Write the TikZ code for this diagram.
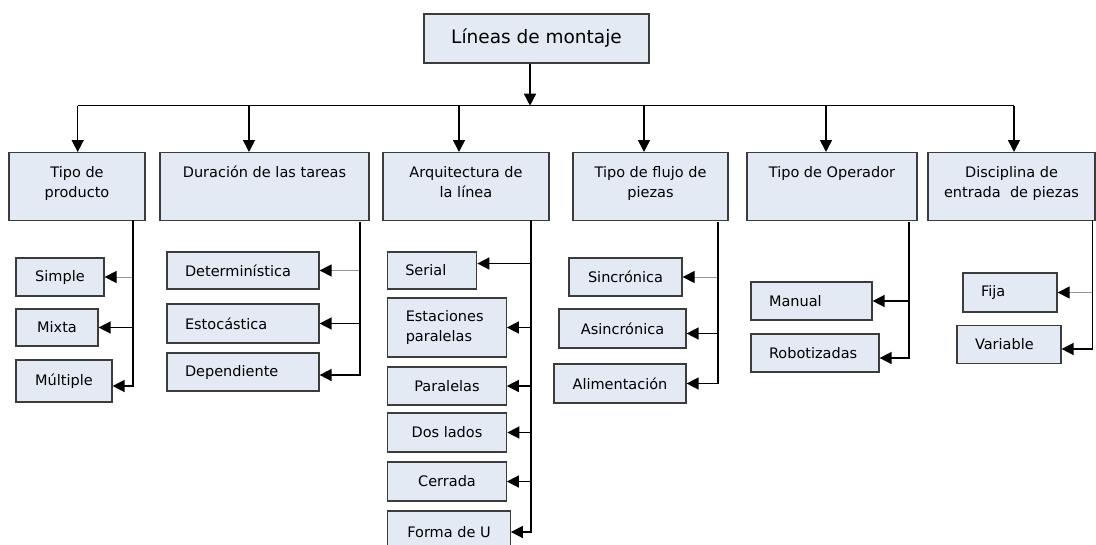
\documentclass[tikz,border=0pt]{standalone}
\usepackage{fontspec}
\setmainfont{DejaVu Sans}
\definecolor{boxblue}{RGB}{227, 234, 244}
\definecolor{edgegray}{RGB}{60, 60, 60}
\definecolor{thingray}{RGB}{150, 150, 150}
\usepackage{tikz}
\usetikzlibrary{arrows.meta, positioning}

\tikzset{
  box/.style={draw=edgegray, fill=boxblue, line width=1.2pt, inner sep=0pt, font=\fontsize{14.5}{20}\selectfont},
  head/.style={box, anchor=north, align=center, text height=25pt, text depth=43pt},
  headtwo/.style={box, anchor=north, align=center, text height=45pt, text depth=23pt},
  sub/.style={box, align=center},
  subL/.style={box, align=left, inner xsep=18pt},
  arr/.style={line width=1.5pt, -{Triangle[width=12pt, length=12pt]}},
  thinarr/.style={line width=0.8pt, draw=thingray, -{Triangle[width=12pt, length=12pt, color=black]}}
}

\begin{document}
\begin{tikzpicture}[x=1pt, y=-1pt]
  \useasboundingbox (0,0) rectangle (1096,544);

  % Root
  \node[box, minimum width=225, minimum height=49, font=\fontsize{18.5}{20}\selectfont] (lin) at (536.5, 38.5) {Líneas de montaje};

  % Criteria
  \node[headtwo, minimum width=136] (tp)  at (77, 152)     {Tipo de\\producto};
  \node[head, minimum width=209] (dur)    at (264.5, 152)  {Duración de las tareas};
  \node[headtwo, minimum width=166] (arq) at (466, 152)    {Arquitectura de\\la línea};
  \node[headtwo, minimum width=155] (flu) at (650.5, 152)  {Tipo de flujo de\\piezas};
  \node[head, minimum width=170] (ope)    at (832, 152)    {Tipo de Operador};
  \node[headtwo, minimum width=167] (dis) at (1011.5, 152) {Disciplina de\\entrada\ \ de piezas};

  % Bus
  \coordinate (b0) at (530, 105.7);
  \draw[line width=1.5pt] (77.7, 105.7) coordinate (bL) -- (1013.5, 105.7) coordinate (bR);
  \draw[arr] (lin.south -| b0) -- (b0);
  \foreach \nd/\bx in {tp/77.7, dur/249, arq/459, flu/644, ope/826, dis/1014} {
    \coordinate (b-\nd) at (\bx, 105.7);
    \draw[arr] (b-\nd) -- (b-\nd |- \nd.north);
  }

  % Tipo de producto
  \node[sub, minimum width=88, minimum height=38] (simple) at (60, 277)    {Simple};
  \node[sub, minimum width=82, minimum height=37] (mixta)  at (57, 327.5)  {Mixta};
  \node[sub, minimum width=96, minimum height=42] (mult)   at (64, 381)    {Múltiple};
  \coordinate (s-tp) at (133, 220);
  \draw[thinarr] (s-tp) |- (simple);
  \draw[arr] (s-tp) |- (mixta);
  \draw[arr] (s-tp) |- ([yshift=-5pt]mult.east);

  % Duracion
  \node[subL, text width=116, minimum height=37] (det)  at (243, 270.5) {Determinística};
  \node[subL, text width=116, minimum height=39] (esto) at (243, 323.5) {Estocástica};
  \node[subL, text width=116, minimum height=38] (dep)  at (243, 372)   {Dependiente};
  \coordinate (s-dur) at (360, 222);
  \draw[thinarr] (s-dur) |- (det);
  \draw[arr] (s-dur) |- (esto);
  \draw[arr] (s-dur) |- ([yshift=-3pt]dep.east);

  % Arquitectura
  \node[subL, text width=53.5, minimum height=37] (serial) at (432, 270.5) {Serial};
  \node[subL, text width=82.5, minimum height=59] (estac)  at (447, 327.5) {Estaciones\\paralelas};
  \node[sub, minimum width=118.5, minimum height=38] (paral) at (447, 386)   {Paralelas};
  \node[sub, minimum width=119.5, minimum height=39] (dos)   at (447, 432.5) {Dos lados};
  \node[sub, minimum width=118.5, minimum height=39] (cerr)  at (447, 481.5) {Cerrada};
  \node[sub, minimum width=122.5, minimum height=42] (formu) at (449, 532)   {Forma de U};
  \coordinate (s-arq) at (531, 220);
  \draw[arr] (s-arq) |- ([yshift=7pt]serial.east);
  \foreach \nd in {estac, paral, dos, cerr, formu}
    \draw[arr] (s-arq) |- (\nd);

  % Flujo de piezas
  \node[sub, minimum width=113, minimum height=38] (sinc)  at (625.5, 277)   {Sincrónica};
  \node[sub, minimum width=127, minimum height=39] (asinc) at (622.5, 328.5) {Asincrónica};
  \node[sub, minimum width=132, minimum height=39] (alim)  at (620, 383.5)   {Alimentación};
  \coordinate (s-flu) at (718, 222);
  \draw[thinarr] (s-flu) |- (sinc);
  \draw[arr] (s-flu) |- ([yshift=-5pt]asinc.east);
  \draw[arr] (s-flu) |- (alim);

  % Operador
  \node[subL, text width=85, minimum height=38] (manual) at (811.5, 301) {Manual};
  \node[subL, text width=92, minimum height=38] (robot)  at (815, 353)   {Robotizadas};
  \coordinate (s-ope) at (909, 222);
  \draw[arr] (s-ope) |- (manual);
  \draw[arr] (s-ope) |- ([yshift=-5pt]robot.east);

  % Disciplina de entrada
  \node[subL, text width=58, minimum height=39] (fija) at (1010, 292.5) {Fija};
  \node[subL, text width=68, minimum height=38] (var)  at (1009, 344.5) {Variable};
  \coordinate (s-dis) at (1092.5, 220);
  \draw[thinarr] (s-dis) |- (fija);
  \draw[arr] (s-dis) |- ([yshift=-4.5pt]var.east);
\end{tikzpicture}
\end{document}
